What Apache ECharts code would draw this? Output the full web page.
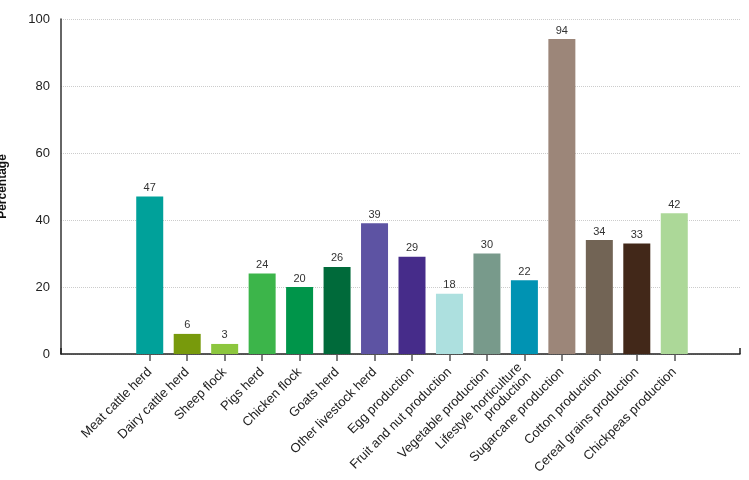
<!DOCTYPE html>
<html>
<head>
<meta charset="utf-8">
<script src="https://cdn.jsdelivr.net/npm/echarts@6/dist/echarts.min.js"></script>
<style>
    html, body { margin: 0; padding: 0; background: #fff; }
    #chart { width: 749px; height: 480px; }
</style>
</head>
<body>
<div id="chart"></div>
<script>
const categories = [
    'Meat cattle herd', 'Dairy cattle herd', 'Sheep flock', 'Pigs herd', 'Chicken flock',
    'Goats herd', 'Other livestock herd', 'Egg production', 'Fruit and nut production',
    'Vegetable production', 'Lifestyle horticulture\nproduction', 'Sugarcane production',
    'Cotton production', 'Cereal grains production', 'Chickpeas production'
];
const percentages = [47, 6, 3, 24, 20, 26, 39, 29, 18, 30, 22, 94, 34, 33, 42];
const barColors = [
    '#00a19a', '#789a0c', '#8cc63e', '#3cb54a', '#00954a', '#006a3a', '#5d53a3', '#462c8a',
    '#ade0df', '#789a8b', '#0093b3', '#9c8679', '#726455', '#422819', '#acd898'
];
const yTicks = [0, 20, 40, 60, 80, 100];

const font = 'Liberation Sans, Arial, sans-serif';
const chart = echarts.init(document.getElementById('chart'));

const option = {
    animation: false,
    textStyle: { fontFamily: font },
    grid: [
        { left: 131, right: 56, top: 19, bottom: 126, containLabel: false, outerBoundsMode: 'none' },
        { left: 61, right: 9, top: 19, bottom: 126, containLabel: false, outerBoundsMode: 'none' }
    ],
    xAxis: [
        {
            gridIndex: 0,
            type: 'category',
            data: categories,
            axisLine: { show: false },
            axisTick: { show: true, alignWithLabel: true, length: 7, lineStyle: { color: '#555', width: 1.5 } },
            axisLabel: { rotate: 45, fontSize: 13, color: '#222', margin: 16, interval: 0 }
        },
        {
            gridIndex: 1,
            type: 'value',
            min: 0,
            max: 1,
            interval: 1,
            axisLine: { show: true, lineStyle: { color: '#222', width: 1.5 } },
            axisTick: { show: true, inside: true, length: 6, lineStyle: { color: '#222', width: 1.5 } },
            axisLabel: { show: false },
            splitLine: { show: false }
        }
    ],
    yAxis: [
        {
            gridIndex: 0,
            type: 'value',
            min: 0,
            max: 100,
            show: false
        },
        {
            gridIndex: 1,
            type: 'value',
            min: 0,
            max: 100,
            interval: 20,
            name: 'Percentage',
            nameLocation: 'middle',
            nameGap: 52,
            nameTextStyle: { fontSize: 12, fontWeight: 'bold', color: '#111' },
            axisLine: { show: true, lineStyle: { color: '#333', width: 1.5 } },
            axisTick: { show: false },
            axisLabel: {
                fontSize: 13, color: '#222', margin: 11,
                formatter: v => yTicks.includes(v) ? String(v) : ''
            },
            splitLine: { show: true, lineStyle: { color: '#ccc', type: 'dotted' } }
        }
    ],
    series: [
        {
            type: 'bar',
            xAxisIndex: 0,
            yAxisIndex: 0,
            barWidth: 27,
            data: percentages.map((v, i) => ({ value: v, itemStyle: { color: barColors[i] } })),
            label: { show: true, position: 'top', distance: 3, fontSize: 11, color: '#333' },
            z: 3
        }
    ]
};

chart.setOption(option);
</script>
</body>
</html>
